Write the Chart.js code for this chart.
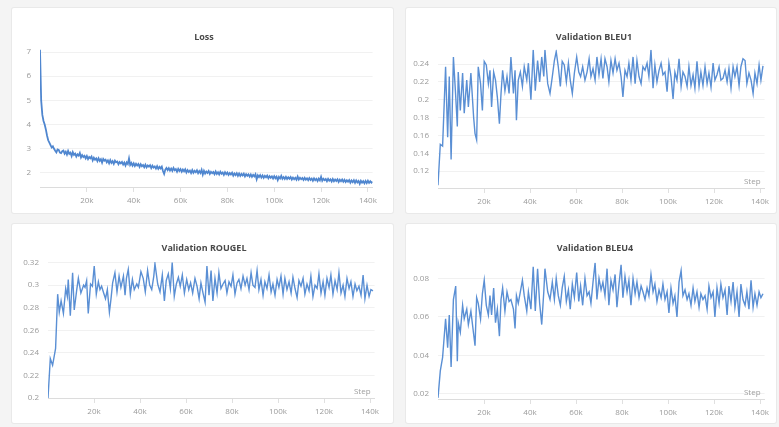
<!DOCTYPE html>
<html><head><meta charset="utf-8">
<script src="https://cdn.jsdelivr.net/npm/chart.js@4.4.1/dist/chart.umd.min.js"></script>
<style>
html,body{margin:0;padding:0;background:#f4f4f4;width:779px;height:427px;overflow:hidden;font-family:'Open Sans',sans-serif}
.panel{position:absolute;background:#fff;box-shadow:0 0 0 1px #e9e9e9;border-radius:2px}
.panel canvas{position:absolute;left:0;top:0}
</style></head><body>
<div class="panel" style="left:12px;top:8px;width:381px;height:205px"><canvas id="c1" width="381" height="205"></canvas></div>
<div class="panel" style="left:406px;top:8px;width:370px;height:205px"><canvas id="c2" width="370" height="205"></canvas></div>
<div class="panel" style="left:12px;top:224px;width:381px;height:199px"><canvas id="c3" width="381" height="199"></canvas></div>
<div class="panel" style="left:406px;top:224px;width:370px;height:199px"><canvas id="c4" width="370" height="199"></canvas></div>
<script>
// ---- data (steps in thousands) ----
const lossStepsK = [
0,0.5,1,1.5,2,2.5,3,3.5,4,4.5,5,5.5,6,6.5,7,7.5,8,8.5,9,9.5,
10,10.5,11,11.5,12,12.5,13,13.5,14,14.5,15,15.5,16,16.5,17,17.5,18,18.5,19,19.5,
20,20.5,21,21.5,22,22.5,23,23.5,24,24.5,25,25.5,26,26.5,27,27.5,28,28.5,29,29.5,
30,30.5,31,31.5,32,32.5,33,33.5,34,34.5,35,35.5,36,36.5,37,37.5,38,38.5,39,39.5,
40,40.5,41,41.5,42,42.5,43,43.5,44,44.5,45,45.5,46,46.5,47,47.5,48,48.5,49,49.5,
50,50.5,51,51.5,52,52.5,53,53.5,54,54.5,55,55.5,56,56.5,57,57.5,58,58.5,59,59.5,
60,60.5,61,61.5,62,62.5,63,63.5,64,64.5,65,65.5,66,66.5,67,67.5,68,68.5,69,69.5,
70,70.5,71,71.5,72,72.5,73,73.5,74,74.5,75,75.5,76,76.5,77,77.5,78,78.5,79,79.5,
80,80.5,81,81.5,82,82.5,83,83.5,84,84.5,85,85.5,86,86.5,87,87.5,88,88.5,89,89.5,
90,90.5,91,91.5,92,92.5,93,93.5,94,94.5,95,95.5,96,96.5,97,97.5,98,98.5,99,99.5,
100,100.5,101,101.5,102,102.5,103,103.5,104,104.5,105,105.5,106,106.5,107,107.5,108,108.5,109,109.5,
110,110.5,111,111.5,112,112.5,113,113.5,114,114.5,115,115.5,116,116.5,117,117.5,118,118.5,119,119.5,
120,120.5,121,121.5,122,122.5,123,123.5,124,124.5,125,125.5,126,126.5,127,127.5,128,128.5,129,129.5,
130,130.5,131,131.5,132,132.5,133,133.5,134,134.5,135,135.5,136,136.5,137,137.5,138,138.5,139,139.5,
140,140.5,141,141.5,142];
const lossValues = [
7.1,5.0,4.4,4.15,4.0,3.8,3.55,3.35,3.25,3.15,3.05,3.1,3.0,2.92,2.85,2.97,2.95,2.84,2.82,2.9,
2.93,2.80,2.88,2.76,2.91,2.79,2.84,2.70,2.86,2.75,
2.80,2.68,2.77,2.72,2.83,2.64,2.74,2.66,2.71,2.60,
2.70,2.57,2.66,2.61,2.68,2.52,2.63,2.55,2.60,2.49,
2.61,2.50,2.57,2.43,2.58,2.51,2.55,2.44,2.52,2.40,
2.53,2.42,2.49,2.38,2.51,2.44,2.47,2.36,2.45,2.40,
2.46,2.35,2.43,2.31,2.44,2.37,2.60,2.33,2.41,2.30,
2.40,2.29,2.38,2.31,2.37,2.25,2.36,2.28,2.33,2.24,
2.34,2.23,2.31,2.26,2.32,2.20,2.30,2.22,2.27,2.18,
2.28,2.17,2.25,2.19,2.26,2.08,1.96,2.14,2.21,2.12,
2.20,2.10,2.18,2.09,2.21,2.11,2.16,2.05,2.17,2.08,
2.16,2.05,2.14,2.07,2.15,2.02,2.12,2.04,2.10,2.00,
2.12,2.01,2.09,2.03,2.11,1.99,2.08,2.00,2.13,1.93,
2.09,1.98,2.06,2.00,2.08,1.96,2.05,1.99,2.04,1.95,
2.06,1.96,2.03,1.94,2.05,1.97,2.02,1.92,2.03,1.95,
2.02,1.92,2.00,1.94,2.01,1.89,1.98,1.91,1.99,1.88,
1.98,1.88,1.96,1.90,1.97,1.86,1.95,1.88,1.94,1.85,
1.94,1.84,1.92,1.86,1.95,1.74,1.90,1.83,1.91,1.81,
1.90,1.80,1.88,1.82,1.89,1.78,1.87,1.80,1.86,1.77,
1.87,1.78,1.85,1.71,1.84,1.77,1.88,1.76,1.83,1.75,
1.84,1.75,1.82,1.76,1.83,1.73,1.81,1.74,1.80,1.72,
1.85,1.73,1.80,1.74,1.79,1.71,1.80,1.72,1.78,1.70,
1.79,1.71,1.77,1.68,1.78,1.70,1.76,1.67,1.77,1.69,
1.84,1.68,1.76,1.70,1.75,1.66,1.76,1.68,1.74,1.65,
1.75,1.66,1.73,1.67,1.74,1.63,1.72,1.66,1.73,1.64,
1.72,1.63,1.70,1.64,1.71,1.60,1.69,1.62,1.70,1.59,
1.69,1.61,1.67,1.55,1.68,1.60,1.66,1.57,1.67,1.58,
1.68,1.59,1.66,1.60,1.64];

const valStepsK = [0,1,2,3.3,4.2,4.9,5.7,6.7,7.7,8.4,
8.8,9.7,10.7,11.4,12.5,13.2,14.3,15.5,16.1,16.8,
17.5,18.5,19.3,20.1,21,21.9,22.6,23.3,24.2,25,
25.8,26.7,27.4,28.1,29.1,30,30.9,31.7,32.8,33.5,
34.1,34.9,35.8,36.7,37.5,38.6,39.3,40.4,41.4,42.3,
43.3,44.2,45.1,46,46.5,47.7,48.7,49.7,50.6,51.4,
52.3,53.2,54,54.9,55.8,56.7,57.5,58.4,59.3,60.3,
61.2,62,62.9,63.9,64.8,65.7,66.5,67.4,68.3,69.1,
70,70.9,71.7,72.6,73.5,74.3,75.2,76.1,77,77.8,
78.7,79.6,80.4,81.3,82.2,83,83.9,84.8,85.7,86.5,
87.4,88.3,89.1,90,90.9,91.7,92.6,93.5,94.3,95.2,
96.1,97,97.8,98.7,99.6,100.4,101.3,102.2,103,103.9,
104.8,105.7,106.5,107.4,108.3,109.1,110,110.9,111.7,112.6,
113.5,114.3,115.2,116.1,117,117.8,118.7,119.6,120.4,121.3,
122.2,123,123.9,124.8,125.7,126.5,127.4,128.3,129.1,130,
130.9,131.7,132.6,133.5,134.3,135.2,136.1,137,137.8,138.7,
139.6,140.4,141.3];

const bleu1Values = [0.104,0.150,0.148,0.237,0.158,0.226,0.133,0.248,0.204,0.170,
0.231,0.188,0.230,0.185,0.222,0.192,0.230,0.180,0.162,0.155,
0.237,0.218,0.188,0.243,0.239,0.218,0.233,0.192,0.231,0.222,
0.203,0.173,0.207,0.233,0.210,0.226,0.207,0.248,0.207,0.233,
0.177,0.222,0.231,0.215,0.237,0.222,0.241,0.200,0.256,0.210,
0.244,0.220,0.248,0.226,0.256,0.218,0.207,0.226,0.244,0.254,
0.237,0.215,0.243,0.239,0.220,0.241,0.222,0.207,0.230,0.248,
0.231,0.226,0.237,0.222,0.231,0.246,0.226,0.235,0.222,0.248,
0.228,0.246,0.224,0.246,0.237,0.220,0.244,0.230,0.246,0.233,
0.241,0.226,0.203,0.233,0.226,0.241,0.222,0.248,0.218,0.244,
0.226,0.218,0.237,0.233,0.241,0.226,0.256,0.213,0.239,0.220,
0.233,0.241,0.228,0.231,0.209,0.241,0.226,0.201,0.231,0.222,
0.246,0.215,0.231,0.226,0.215,0.237,0.216,0.228,0.213,0.243,
0.215,0.231,0.216,0.237,0.218,0.230,0.214,0.241,0.222,0.228,
0.237,0.222,0.224,0.233,0.220,0.235,0.213,0.237,0.226,0.237,
0.216,0.237,0.246,0.244,0.218,0.230,0.222,0.207,0.230,0.218,
0.239,0.222,0.238];

const rougeValues = [0.200,0.235,0.229,0.244,0.292,0.276,0.286,0.275,0.297,0.290,
0.305,0.273,0.311,0.278,0.296,0.306,0.293,0.300,0.298,0.304,
0.275,0.301,0.299,0.317,0.292,0.303,0.296,0.299,0.293,0.288,
0.296,0.276,0.288,0.302,0.311,0.294,0.308,0.298,0.308,0.291,
0.306,0.314,0.292,0.305,0.296,0.301,0.298,0.312,0.306,0.294,
0.313,0.300,0.296,0.308,0.319,0.301,0.294,0.309,0.286,0.304,
0.310,0.297,0.320,0.290,0.301,0.307,0.299,0.309,0.293,0.305,
0.296,0.302,0.293,0.306,0.299,0.288,0.302,0.293,0.285,0.317,
0.291,0.313,0.286,0.306,0.293,0.311,0.297,0.301,0.304,0.293,
0.303,0.299,0.309,0.292,0.302,0.305,0.297,0.308,0.300,0.306,
0.296,0.311,0.300,0.298,0.313,0.296,0.305,0.291,0.303,0.297,
0.309,0.294,0.301,0.291,0.305,0.298,0.308,0.292,0.306,0.296,
0.303,0.293,0.307,0.297,0.289,0.304,0.299,0.306,0.292,0.301,
0.295,0.308,0.290,0.300,0.297,0.310,0.293,0.303,0.291,0.306,
0.298,0.309,0.292,0.304,0.296,0.311,0.293,0.300,0.290,0.306,
0.297,0.303,0.290,0.301,0.295,0.299,0.291,0.309,0.288,0.300,
0.290,0.296,0.295];

const bleu4Values = [0.018,0.032,0.039,0.059,0.044,0.061,0.034,0.069,0.076,0.037,
0.057,0.052,0.066,0.059,0.064,0.056,0.063,0.051,0.045,0.070,
0.067,0.059,0.072,0.079,0.066,0.061,0.071,0.061,0.075,0.057,
0.064,0.050,0.069,0.075,0.063,0.073,0.068,0.069,0.064,0.054,
0.071,0.067,0.073,0.079,0.071,0.063,0.073,0.064,0.086,0.063,
0.085,0.067,0.056,0.073,0.085,0.073,0.069,0.078,0.069,0.080,
0.071,0.066,0.075,0.081,0.068,0.074,0.064,0.077,0.070,0.083,
0.068,0.076,0.066,0.080,0.071,0.073,0.067,0.078,0.088,0.069,
0.080,0.074,0.078,0.071,0.085,0.066,0.079,0.074,0.082,0.065,
0.077,0.087,0.070,0.081,0.073,0.079,0.066,0.080,0.072,0.078,
0.070,0.076,0.073,0.069,0.075,0.071,0.082,0.073,0.077,0.068,
0.074,0.070,0.077,0.069,0.073,0.062,0.075,0.067,0.071,0.060,
0.078,0.084,0.071,0.074,0.069,0.072,0.066,0.075,0.068,0.073,
0.065,0.072,0.069,0.071,0.064,0.076,0.070,0.073,0.060,0.075,
0.067,0.077,0.070,0.074,0.061,0.076,0.068,0.078,0.065,0.073,
0.060,0.077,0.069,0.066,0.073,0.064,0.079,0.065,0.072,0.066,
0.073,0.070,0.072];

const xTicks = [20000,40000,60000,80000,100000,120000,140000];
const lossYTicks = [2,3,4,5,6,7];
const bleu1YTicks = [0.12,0.14,0.16,0.18,0.2,0.22,0.24];
const rougeYTicks = [0.2,0.22,0.24,0.26,0.28,0.3,0.32];
const bleu4YTicks = [0.02,0.04,0.06,0.08];

// ---- rendering ----
const FONT = "'Open Sans', sans-serif";
const decor = {
  id: 'decor',
  afterDraw(chart, args, o) {
    const ctx = chart.ctx, ca = chart.chartArea;
    ctx.save();
    ctx.font = "bold 9px " + FONT;
    ctx.fillStyle = '#4a4a4a';
    ctx.textAlign = 'center';
    ctx.textBaseline = 'middle';
    ctx.fillText(o.title, o.tx, o.ty);
    if (o.step) {
      ctx.font = "8px " + FONT;
      ctx.fillStyle = '#a0a0a0';
      ctx.textAlign = 'right';
      ctx.fillText('Step', ca.right - 4, ca.bottom - 6);
    }
    ctx.restore();
  }
};

function make(id, stepsK, vals, cfg) {
  const pts = stepsK.map((s, i) => ({x: s * 1000, y: vals[i]}));
  new Chart(document.getElementById(id), {
    type: 'line',
    data: {datasets: [{data: pts, borderColor: cfg.col, borderWidth: cfg.lw,
      pointRadius: 0, tension: 0, fill: false}]},
    options: {
      responsive: false, animation: false, events: [],
      layout: {padding: {top: cfg.top, right: cfg.right, bottom: 0, left: 0}},
      plugins: {legend: {display: false}, tooltip: {enabled: false},
        decor: {title: cfg.title, tx: cfg.tx, ty: cfg.ty, step: cfg.step}},
      scales: {
        x: {type: 'linear', min: 0, max: 142000,
          afterBuildTicks: s => { s.ticks = xTicks.map(v => ({value: v})); },
          afterFit: s => { s.height = cfg.xh; },
          grid: {drawOnChartArea: false, drawTicks: true, tickLength: 5, color: '#e0e0e0'},
          border: {display: true, color: '#dcdcdc'},
          ticks: {font: {size: 8, family: FONT}, color: '#9a9a9a', padding: 4, maxRotation: 0,
            callback: v => (v / 1000) + 'k'}},
        y: {min: cfg.ymin, max: cfg.ymax,
          afterBuildTicks: s => { s.ticks = cfg.yt.map(v => ({value: v})); },
          afterFit: s => { s.width = cfg.yw; },
          grid: {color: '#f1f1f1', drawTicks: false},
          border: {display: false},
          ticks: {font: {size: 8, family: FONT}, color: '#9a9a9a', padding: 9,
            callback: v => String(+v.toFixed(3))}}
      }
    },
    plugins: [decor]
  });
}

make('c1', lossStepsK, lossValues, {title: 'Loss', tx: 192, ty: 29, step: false, lw: 1.8, col: '#4f86cf',
  top: 41.6, right: 20.4, yw: 28, xh: 26, ymin: 1.42, ymax: 7.1, yt: lossYTicks});
make('c2', valStepsK, bleu1Values, {title: 'Validation BLEU1', tx: 188, ty: 29, step: true, lw: 1.4, col: '#5a8fd4',
  top: 41.8, right: 11.4, yw: 32, xh: 25, ymin: 0.101, ymax: 0.256, yt: bleu1YTicks});
make('c3', valStepsK, rougeValues, {title: 'Validation ROUGEL', tx: 192, ty: 24, step: true, lw: 1.4, col: '#5a8fd4',
  top: 38, right: 18.4, yw: 36, xh: 25, ymin: 0.2, ymax: 0.3205, yt: rougeYTicks});
make('c4', valStepsK, bleu4Values, {title: 'Validation BLEU4', tx: 189, ty: 24, step: true, lw: 1.4, col: '#5a8fd4',
  top: 38.5, right: 11.4, yw: 32, xh: 24, ymin: 0.0174, ymax: 0.0882, yt: bleu4YTicks});
</script>
</body></html>
